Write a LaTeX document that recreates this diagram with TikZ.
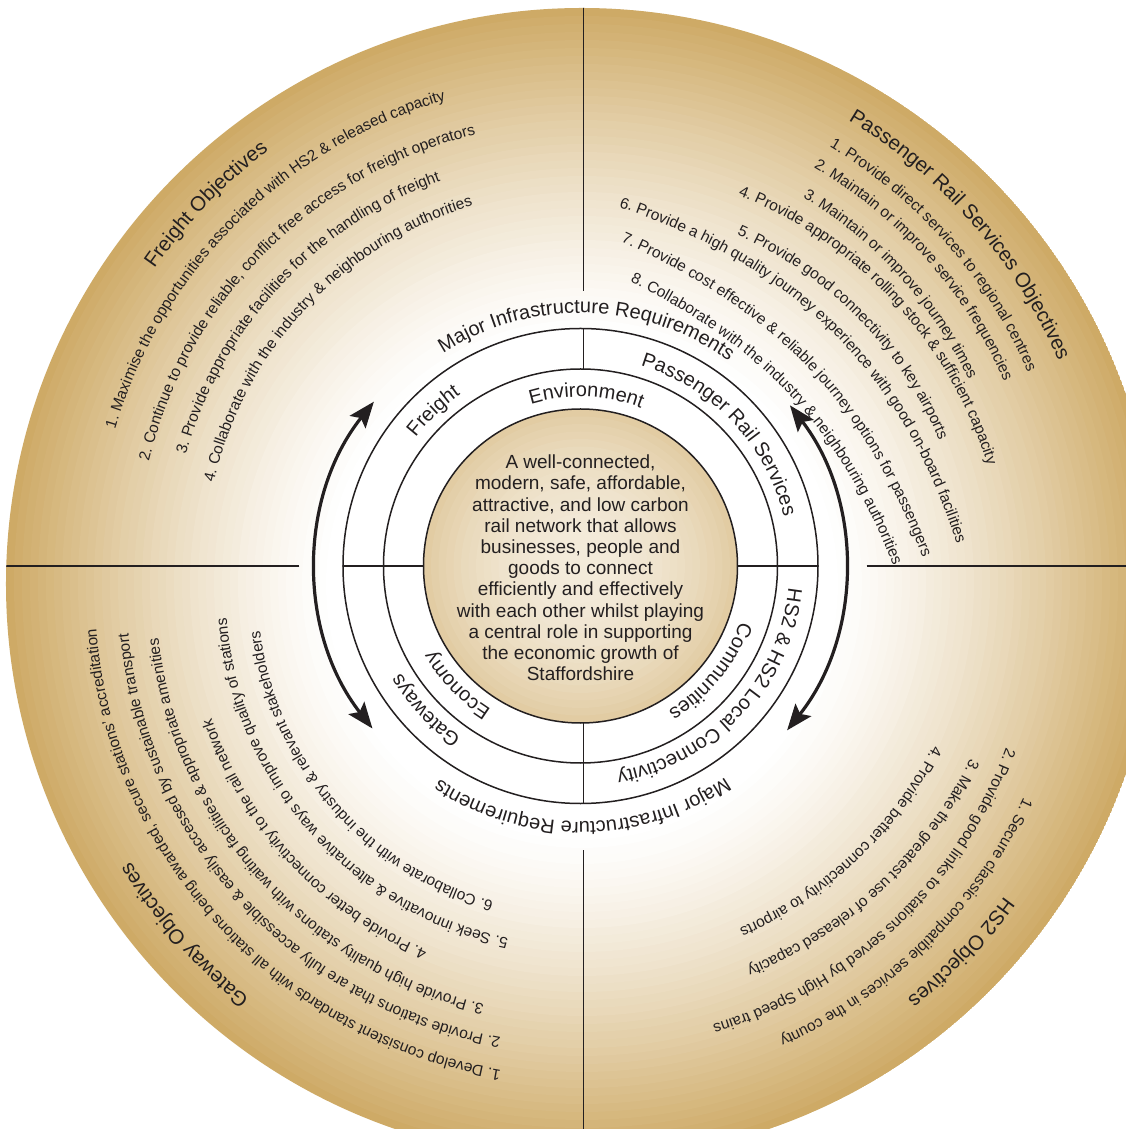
\documentclass[tikz,border=0pt]{standalone}
\usepackage{fontspec}
\setmainfont{Liberation Sans}
\usetikzlibrary{arrows.meta, decorations.text}

\definecolor{gold}{RGB}{206,170,102}
\definecolor{ink}{RGB}{35,31,32}
\newcommand{\objfont}{\fontsize{15.5}{18}\selectfont}
\newcommand{\headfont}{\fontsize{20.5}{24}\selectfont}
\newcommand{\ringfont}{\fontsize{20}{24}\selectfont}

\begin{document}
\begin{tikzpicture}[x=1pt, y=1pt,
  ring/.style={draw=ink, line width=1.5pt},
  divider/.style={draw=ink, line width=1.5pt},
  turnarrow/.style={draw=ink, line width=3.2pt, <->, >={Stealth[length=26pt, width=20pt, inset=5pt]}},
  ringtext/.style={decorate, decoration={text along path, text align=center, text color=ink, text={|\ringfont|#1}}},
  objhead/.style={decorate, decoration={text along path, text align=left, text color=ink, text={|\headfont|#1}}},
  objtext/.style={decorate, decoration={text along path, text align=left, text color=ink, text={|\objfont|#1}}},
]
  \useasboundingbox (-580.5,-563) rectangle (545.5,566);
  \fill[white] (-580.5,-563) rectangle (545.5,566);
  \coordinate (hub) at (0,0);
  \coordinate (rim) at (0,-25);
  \coordinate (disc) at (1.5,-18);

  % gold backdrop and quadrant lines
  \begin{scope}
    \clip (disc) circle[radius=576];
    \foreach \k in {0,...,40} {
      \pgfmathsetmacro{\rr}{576-8*\k}
      \pgfmathtruncatemacro{\mix}{100*((\rr-250)/326)^1.3}
      \fill[gold!\mix!white] (disc) circle[radius=\rr];
    }
    \draw[divider] (3,275) -- (3,600);
    \draw[divider] (3,-284) -- (3,-600);
    \draw[divider] (-281,0) -- (-600,0);
    \draw[divider] (286,0) -- (600,0);
  \end{scope}

  % centre disc
  \foreach \k in {0,...,20} {
    \pgfmathsetmacro{\rr}{157-7.5*\k}
    \pgfmathtruncatemacro{\mix}{24+36*(\rr/157)^2}
    \fill[gold!\mix!white] (hub) circle[radius=\rr];
  }

  % rings
  \draw[ring] (hub) circle[radius=157];
  \draw[ring] (hub) circle[radius=197];
  \draw[ring] (hub) circle[radius=237.5];
  \draw[divider] (3,197) -- (3,237.5);
  \draw[divider] (3,-157) -- (3,-237.5);
  \draw[divider] (-237.5,0) -- (-157,0);
  \draw[divider] (157,0) -- (237.5,0);

  \draw[turnarrow] (141.5:264) arc[start angle=141.5, end angle=218, radius=264];
  \draw[turnarrow] (37.5:264) arc[start angle=37.5, end angle=-38.5, radius=264];

  % ring labels
  \path[ringtext={Major Infrastructure Requirements}] (148.5:253) arc[start angle=148.5, end angle=28.5, radius=253];
  \path[ringtext={Major Infrastructure Requirements}] (-29.5:256) arc[start angle=-29.5, end angle=-149.5, radius=256];
  \path[ringtext={Environment}] (148:169) arc[start angle=148, end angle=28, radius=169];
  \path[ringtext={Economy}] (269:169) arc[start angle=269, end angle=179, radius=169];
  \path[ringtext={Communities}] (6:169) arc[start angle=6, end angle=-84, radius=169];
  \path[ringtext={Freight}] (178.5:209) arc[start angle=178.5, end angle=88.5, radius=209];
  \path[ringtext={Passenger Rail Services}] (88.4:209) arc[start angle=88.4, end angle=-1.6, radius=209];
  \path[ringtext={HS2 {\&} HS2 Local Connectivity}] (2:209) arc[start angle=2, end angle=-88, radius=209];
  \path[ringtext={Gateways}] (268:209) arc[start angle=268, end angle=178, radius=209];

  % freight objectives
  \path[objhead={Freight Objectives}] (145.1:519.5) arc[start angle=145.1, end angle=120, radius=519.5];
  \path[objtext={1. Maximise the opportunities associated with HS2 {\&} released capacity}] (163.6:485) arc[start angle=163.6, end angle=98, radius=485];
  \path[objtext={2. Continue to provide reliable, conflict free access for freight operators}] (166.4:444) arc[start angle=166.4, end angle=97, radius=444];
  \path[objtext={3. Provide appropriate facilities for the handling of freight}] (164.2:410) arc[start angle=164.2, end angle=103, radius=410];
  \path[objtext={4. Collaborate with the industry {\&} neighbouring authorities}] (167.2:376) arc[start angle=167.2, end angle=100, radius=376];

  % passenger rail services objectives
  \path[objhead={Passenger Rail Services Objectives}] (59:520) arc[start angle=59, end angle=18, radius=520];
  \path[objtext={1. Provide direct services to regional centres}] (59.3:487.5) arc[start angle=59.3, end angle=18, radius=487.5];
  \path[objtext={2. Maintain or improve service frequencies}] (59.7:462) arc[start angle=59.7, end angle=18, radius=462];
  \path[objtext={3. Maintain or improve journey times}] (58.9:430.5) arc[start angle=58.9, end angle=19, radius=430.5];
  \begin{scope}[shift={(rim)}]
    \path[objtext={4. Provide appropriate rolling stock {\&} sufficient capacity}] (68.3:426) arc[start angle=68.3, end angle=10, radius=426];
    \path[objtext={5. Provide good connectivity to key airports}] (66.3:389) arc[start angle=66.3, end angle=14, radius=389];
  \end{scope}
  \path[objtext={6. Provide a high quality journey experience with good on-board facilities}] (83.9:361) to[bend left=28] (-1.5:386);
  \path[objtext={7. Provide cost effective {\&} reliable journey options for passengers}] (82.9:327) to[bend left=23] (-2:350);
  \path[objtext={8. Collaborate with the industry {\&} neighbouring authorities}] (80.1:289) to[bend left=21.5] (-3.5:321);

  % gateway and HS2 objectives
  \begin{scope}[shift={(rim)}]
    \path[objhead={Gateway Objectives}] (230.9:525) arc[start angle=230.9, end angle=205, radius=525];
    \path[objtext={1. Develop consistent standards with all stations being awarded, secure stations' accreditation}] (260.6:485.6) arc[start angle=260.6, end angle=178, radius=485.6];
    \path[objtext={2. Provide stations that are fully accessible {\&} easily accessed by sustainable transport}] (259.9:454) arc[start angle=259.9, end angle=178, radius=454];
    \path[objtext={3. Provide high quality stations with waiting facilities {\&} appropriate amenities}] (256.9:424.5) arc[start angle=256.9, end angle=179, radius=424.5];
    \path[objtext={4. Provide better connectivity to the rail network}] (246.9:390.5) arc[start angle=246.9, end angle=190, radius=390.5];
    \path[objtext={5. Seek innovative {\&} alternative ways to improve quality of stations}] (258.3:354.8) arc[start angle=258.3, end angle=178, radius=354.8];
    \path[objtext={6. Collaborate with the industry {\&} relevant stakeholders}] (254.4:322.8) arc[start angle=254.4, end angle=181, radius=322.8];

    \path[objhead={HS2 Objectives}] (-35.8:522.5) arc[start angle=-35.8, end angle=-58, radius=522.5];
    \path[objtext={1. Secure classic compatible services in the county}] (-25:489) arc[start angle=-25, end angle=-73, radius=489];
    \path[objtext={2. Provide good links to stations served by High Speed trains}] (-20.2:453.4) arc[start angle=-20.2, end angle=-80, radius=453.4];
  \end{scope}
  \path[objtext={3. Make the greatest use of released capacity}] (-26.3:435) arc[start angle=-26.3, end angle=-74, radius=435];
  \path[objtext={4. Provide better connectivity to airports}] (-26.9:395.7) arc[start angle=-26.9, end angle=-73, radius=395.7];

  % vision statement
  \node[font=\fontsize{19}{21.2}\selectfont, text=ink, align=center, inner sep=0pt] (vision) at (0,-2)
    {A well-connected,\\ modern, safe, affordable,\\ attractive, and low carbon\\ rail network that allows\\ businesses, people and\\ goods to connect\\ efficiently and effectively\\ with each other whilst playing\\ a central role in supporting\\ the economic growth of\\ Staffordshire};
\end{tikzpicture}
\end{document}
